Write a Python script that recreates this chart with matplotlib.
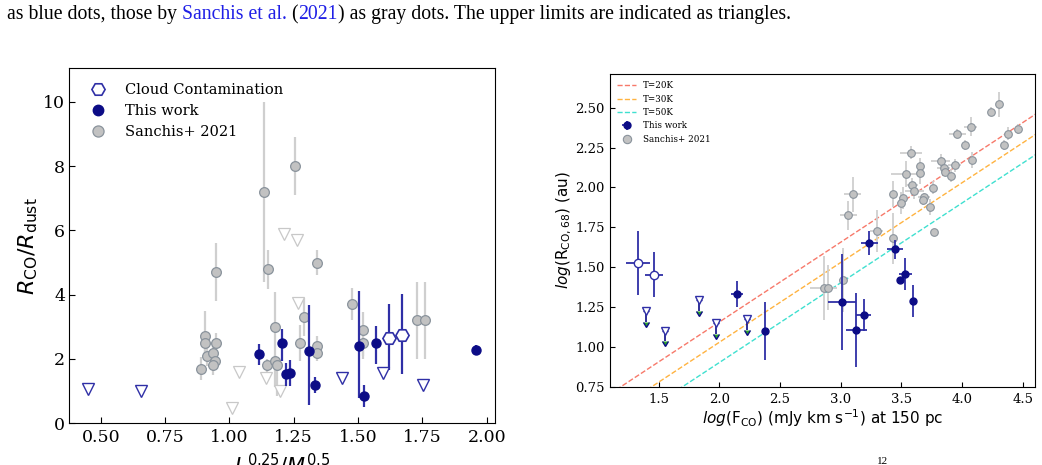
import numpy as np
import matplotlib
matplotlib.use('Agg')
import matplotlib.pyplot as plt
from matplotlib.lines import Line2D

plt.rcParams['font.family'] = 'DejaVu Serif'
plt.rcParams['mathtext.fontset'] = 'dejavusans'

# ---------------- left panel: R_CO/R_dust vs L^0.25/M^0.5 ----------------
# Sanchis+ 2021 detections
s21_x = [0.947, 1.135, 1.255, 1.151, 1.339, 1.476, 1.288, 1.177, 1.273, 1.339, 1.339,
         1.521, 1.521, 0.890, 0.907, 0.907, 0.912, 0.936, 0.943, 0.937, 0.947,
         1.148, 1.179, 1.186, 1.727, 1.761]
s21_y = [4.70, 7.20, 8.00, 4.79, 5.00, 3.70, 3.30, 3.00, 2.50, 2.40, 2.20,
         2.90, 2.50, 1.70, 2.70, 2.50, 2.08, 2.20, 1.93, 1.80, 2.50,
         1.80, 1.93, 1.80, 3.20, 3.20]
s21_ylo = [0.90, 2.80, 0.90, 0.60, 0.38, 0.50, 0.60, 1.87, 0.56, 0.30, 0.25,
           0.90, 0.40, 0.35, 0.50, 0.30, 0.30, 0.30, 0.25, 0.30, 0.30,
           0.20, 0.20, 0.95, 1.20, 1.20]
s21_yhi = [0.90, 2.80, 0.90, 0.60, 0.38, 0.50, 0.60, 1.08, 0.56, 0.30, 0.25,
           0.56, 0.40, 0.35, 0.80, 0.30, 0.30, 0.30, 0.25, 0.30, 0.30,
           0.20, 0.20, 0.20, 1.18, 1.18]
# Sanchis+ 2021 upper limits
s21_ul_x = [1.211, 1.262, 1.267, 1.037, 1.143, 1.195, 1.011]
s21_ul_y = [5.89, 5.70, 3.74, 1.59, 1.41, 1.00, 0.49]

# this work detections
tw_x = [1.115, 1.205, 1.221, 1.237, 1.311, 1.334, 1.502, 1.524, 1.571, 1.957]
tw_y = [2.16, 2.49, 1.52, 1.56, 2.24, 1.20, 2.40, 0.85, 2.49, 2.27]
tw_ylo = [0.35, 0.55, 0.35, 0.40, 1.67, 0.25, 1.62, 0.35, 0.64, 0.15]
tw_yhi = [0.30, 0.45, 0.35, 0.40, 1.44, 0.25, 1.72, 0.35, 0.55, 0.15]
# cloud contaminated
cc_x = [1.621, 1.669]
cc_y = [2.66, 2.76]
cc_ylo = [1.01, 1.24]
cc_yhi = [1.06, 1.27]
# this work upper limits
tw_ul_x = [0.452, 0.658, 1.437, 1.595, 1.753]
tw_ul_y = [1.08, 1.02, 1.41, 1.56, 1.18]

# ---------------- right panel: log R_CO,68 vs log F_CO ----------------
g_x = [4.301, 4.235, 4.461, 4.375, 4.348, 4.070, 3.958, 4.026, 4.084, 3.938, 3.823, 3.847,
       3.856, 3.911, 3.760, 3.732, 3.771, 3.579, 3.656, 3.653, 3.535, 3.584, 3.607, 3.686,
       3.681, 3.513, 3.496, 3.433, 3.433, 3.296, 3.098, 3.060, 2.859, 2.895, 3.016]
g_y = [2.521, 2.475, 2.365, 2.337, 2.265, 2.381, 2.337, 2.267, 2.171, 2.138, 2.165, 2.121,
       2.100, 2.075, 1.998, 1.880, 1.722, 2.219, 2.136, 2.090, 2.084, 2.017, 1.980, 1.938,
       1.919, 1.934, 1.903, 1.959, 1.682, 1.726, 1.957, 1.826, 1.372, 1.372, 1.422]
g_xerr = [0.02, 0.02, 0.02, 0.03, 0.02, 0.055, 0.07, 0.02, 0.03, 0.055, 0.08, 0.055,
          0.03, 0.03, 0.03, 0.03, 0.02, 0.09, 0.03, 0.03, 0.12, 0.05, 0.08, 0.05,
          0.03, 0.03, 0.03, 0.03, 0.03, 0.055, 0.07, 0.07, 0.11, 0.03, 0.03]
g_yerr = [0.08, 0.03, 0.03, 0.04, 0.03, 0.06, 0.03, 0.03, 0.05, 0.04, 0.045, 0.05,
          0.03, 0.04, 0.04, 0.05, 0.02, 0.04, 0.05, 0.07, 0.08, 0.04, 0.05, 0.03,
          0.03, 0.07, 0.07, 0.08, 0.16, 0.13, 0.11, 0.09, 0.20, 0.14, 0.20]

b_x = [3.233, 3.447, 3.532, 3.491, 3.595, 3.013, 3.129, 3.189, 2.146, 2.379]
b_y = [1.650, 1.613, 1.460, 1.422, 1.287, 1.283, 1.106, 1.201, 1.331, 1.100]
b_xerr = [0.07, 0.063, 0.055, 0.02, 0.02, 0.115, 0.087, 0.06, 0.05, 0.01]
b_yerr = [0.075, 0.06, 0.10, 0.02, 0.10, 0.30, 0.23, 0.10, 0.08, 0.18]

bc_x = [1.330, 1.459]
bc_y = [1.528, 1.453]
bc_xerr = [0.10, 0.074]
bc_yerr = [0.20, 0.14]

bul_x = [1.396, 1.549, 1.835, 1.975, 2.231]
bul_y = [1.224, 1.101, 1.293, 1.148, 1.173]

temps = ['T=20K', 'T=30K', 'T=50K']
t_intercept = [0.157, 0.030, -0.097]
t_slope = 0.5
t_colors = ['#f7796a', '#ffb340', '#3fe0d0']

navy = '#0c0c86'
navy_bar = '#2f2fa6'
gray_face = '#c2c2c2'
gray_edge = '#8a939c'
gray_bar = '#cfcfcf'

fig = plt.figure(figsize=(10.42, 4.65), dpi=100)
W, H = 1042.0, 465.0
ax1 = fig.add_axes([69.3 / W, 1 - 423.3 / H, (495 - 69.3) / W, (423.3 - 68.3) / H])
ax2 = fig.add_axes([610 / W, 1 - 387 / H, (1035 - 610) / W, (387 - 74.3) / H])

# ---- left ----
ax1.errorbar(s21_x, s21_y, yerr=[s21_ylo, s21_yhi], fmt='o', ms=7, mfc=gray_face,
             mec=gray_edge, mew=0.9, ecolor=gray_bar, elinewidth=1.6, zorder=2)
ax1.plot(s21_ul_x, s21_ul_y, 'v', ms=8, mfc='white', mec='#c8c8c8', mew=0.9, zorder=2)
ax1.errorbar(tw_x, tw_y, yerr=[tw_ylo, tw_yhi], fmt='o', ms=6.5, color=navy,
             ecolor=navy_bar, elinewidth=1.6, zorder=3)
ax1.errorbar(cc_x, cc_y, yerr=[cc_ylo, cc_yhi], fmt='H', ms=9.5, mfc='white',
             mec=navy_bar, mew=1.2, ecolor=navy_bar, elinewidth=1.6, zorder=3)
ax1.plot(tw_ul_x, tw_ul_y, 'v', ms=8, mfc='white', mec=navy_bar, mew=1.0, zorder=3)

ax1.set_xlim(0.378, 2.032)
ax1.set_ylim(0, 11.04)
ax1.set_xticks([0.5, 0.75, 1.0, 1.25, 1.5, 1.75, 2.0])
ax1.set_xticklabels(['0.50', '0.75', '1.00', '1.25', '1.50', '1.75', '2.00'])
ax1.set_yticks([0, 2, 4, 6, 8, 10])
ax1.tick_params(direction='in', length=4, labelsize=12.5, pad=4)
ax1.tick_params(axis='y', pad=3)
ax1.set_ylabel(r'$R_{\rm CO}/R_{\rm dust}$', fontsize=16, labelpad=2)
ax1.set_xlabel(r'$L^{0.25}/M^{0.5}$', fontsize=15, labelpad=4)

h1 = [Line2D([], [], ls='none', marker='H', ms=9.5, mfc='white', mec=navy_bar, mew=1.2),
      Line2D([], [], ls='none', marker='o', ms=7.5, color=navy),
      Line2D([], [], ls='none', marker='o', ms=8, mfc=gray_face, mec=gray_edge, mew=0.9)]
ax1.legend(h1, ['Cloud Contamination', 'This work', 'Sanchis+ 2021'], loc='upper left',
           frameon=False, fontsize=10.5, handletextpad=0.8, labelspacing=0.5,
           borderaxespad=0.6)

# ---- right ----
xs = np.array([1.0, 4.7])
for name, b, c in zip(temps, t_intercept, t_colors):
    ax2.plot(xs, t_slope * xs + b, ls='--', lw=1.0, color=c, label=name, zorder=1)

ax2.errorbar(g_x, g_y, xerr=g_xerr, yerr=g_yerr, fmt='o', ms=5.5, mfc=gray_face,
             mec=gray_edge, mew=0.8, ecolor=gray_bar, elinewidth=1.3, zorder=2)
tw = ax2.errorbar(b_x, b_y, xerr=b_xerr, yerr=b_yerr, fmt='o', ms=5, color=navy,
                  ecolor=navy_bar, elinewidth=1.3, zorder=3, label='This work')
ax2.errorbar(bc_x, bc_y, xerr=bc_xerr, yerr=bc_yerr, fmt='o', ms=6, mfc='white',
             mec=navy_bar, mew=1.0, ecolor=navy_bar, elinewidth=1.3, zorder=3)
ax2.errorbar(bul_x, bul_y, yerr=0.065, uplims=True, fmt='v', ms=6, mfc='white',
             mec=navy_bar, mew=1.0, ecolor=navy, elinewidth=1.2, capsize=2.2, zorder=3)

ax2.set_xlim(1.10, 4.60)
ax2.set_ylim(0.75, 2.709)
ax2.set_xticks([1.5, 2.0, 2.5, 3.0, 3.5, 4.0, 4.5])
ax2.set_yticks([0.75, 1.0, 1.25, 1.5, 1.75, 2.0, 2.25, 2.5])
ax2.set_yticklabels(['0.75', '1.00', '1.25', '1.50', '1.75', '2.00', '2.25', '2.50'])
ax2.tick_params(direction='in', length=3.5, labelsize=9.5, pad=4)
ax2.set_xlabel(r'$log$(F$_{\rm CO}$) (mJy km s$^{-1}$) at 150 pc', fontsize=11,
               fontfamily='DejaVu Sans', labelpad=1)
ax2.set_ylabel(r'$log$(R$_{\rm CO,68}$) (au)', fontsize=11, fontfamily='DejaVu Sans',
               labelpad=1)

handles, labels = ax2.get_legend_handles_labels()
handles.append(Line2D([], [], ls='none', marker='o', ms=6, mfc=gray_face, mec=gray_edge, mew=0.8))
labels.append('Sanchis+ 2021')
ax2.legend(handles, labels, loc='upper left', frameon=False, fontsize=6.3,
           labelspacing=0.5, handlelength=2.2, borderaxespad=0.4)

# ---- caption fragments of the page ----
cap_kw = dict(family='Liberation Serif', fontsize=14.2)
pieces = [('as blue dots, those by ', 'black'), ('Sanchis et al.', '#1f1fe6'),
          (' (', 'black'), ('2021', '#1f1fe6'),
          (') as gray dots. The upper limits are indicated as triangles.', 'black')]
fig.canvas.draw()
rend = fig.canvas.get_renderer()


def text_width(s):
    t1 = fig.text(0, 0, s + '|', **cap_kw)
    t2 = fig.text(0, 0, '|', **cap_kw)
    w = t1.get_window_extent(rend).width - t2.get_window_extent(rend).width
    t1.remove()
    t2.remove()
    return w


x0 = 7.0
prefix = ''
for s, c in pieces:
    xp = x0 + (text_width(prefix) if prefix else 0)
    fig.text(xp / W, 1 - 19 / H, s, color=c, va='baseline', **cap_kw)
    prefix += s

fig.text(877 / W, 1 - 461 / H, '12', family='Liberation Serif', fontsize=8, va='center')

fig.savefig('out.png', dpi=100)
